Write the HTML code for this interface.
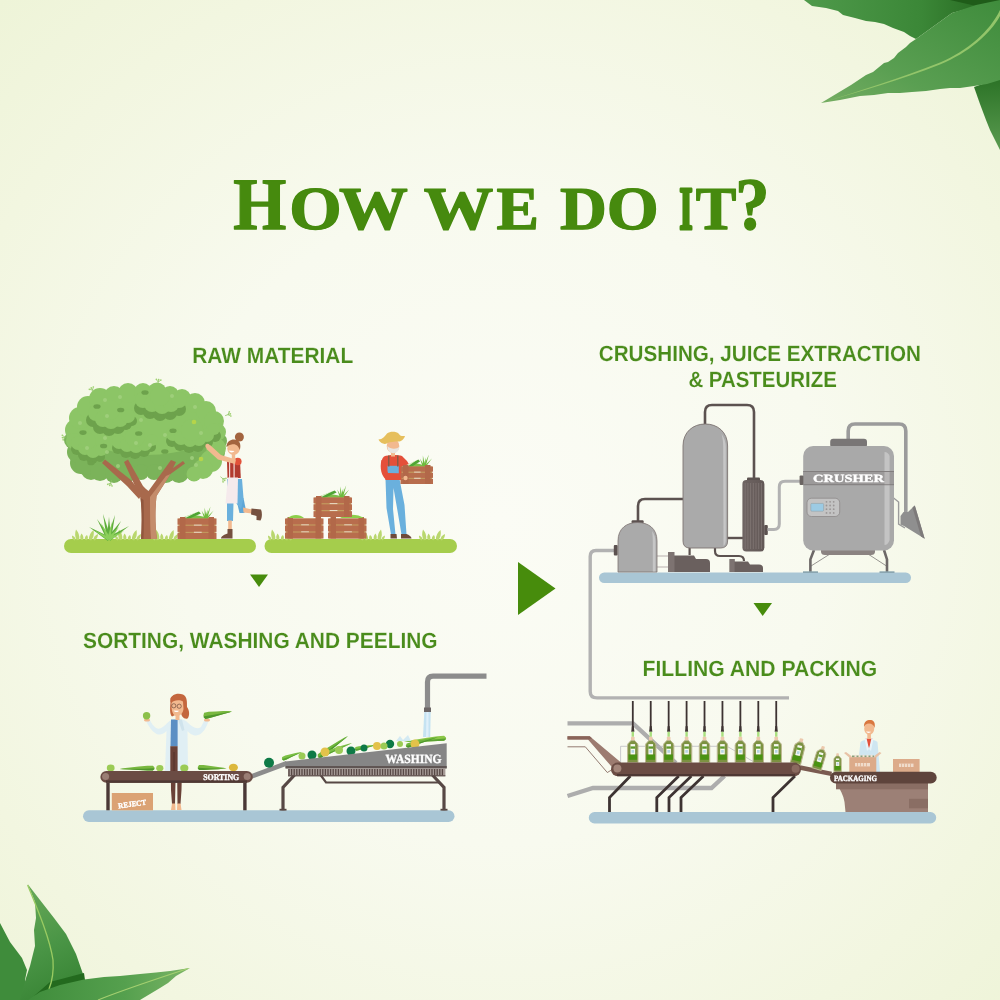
<!DOCTYPE html>
<html lang="en">
<head>
<meta charset="utf-8">
<title>How we do it?</title>
<style>
html,body{margin:0;padding:0;}
body{width:1000px;height:1000px;overflow:hidden;background:#f5f8e8;}
svg{display:block;text-rendering:geometricPrecision;will-change:transform;}
.lbl{font-family:"Liberation Sans",Arial,sans-serif;font-weight:700;fill:#4a8c1c;font-size:22px;stroke:#f8faee;stroke-width:0.1px;}
.ttl{font-family:"Liberation Serif","Times New Roman",serif;font-weight:700;fill:#468a0e;stroke:#468a0e;stroke-width:1.3px;stroke-linejoin:round;}
.stn{font-family:"Liberation Serif","Times New Roman",serif;font-weight:700;fill:#fff;stroke:#fff;stroke-width:0.35px;}
</style>
</head>
<body>
<svg width="1000" height="1000" viewBox="0 0 1000 1000">
<defs>
<radialGradient id="bg" cx="50%" cy="52%" r="72%">
<stop offset="0" stop-color="#fbfcf5"/>
<stop offset="0.45" stop-color="#f8faef"/>
<stop offset="0.8" stop-color="#f2f6e0"/>
<stop offset="1" stop-color="#eef4d8"/>
</radialGradient>
</defs>
<rect width="1000" height="1000" fill="url(#bg)"/>

<!--LEAVES-->
<defs>
<linearGradient id="lf1" x1="0" y1="0" x2="1" y2="0"><stop offset="0" stop-color="#4f9a4b"/><stop offset="0.6" stop-color="#3b8737"/><stop offset="1" stop-color="#23641d"/></linearGradient>
<linearGradient id="lf2" x1="0" y1="1" x2="1" y2="0"><stop offset="0" stop-color="#74ad62"/><stop offset="0.35" stop-color="#5a9f52"/><stop offset="1" stop-color="#3f8c3c"/></linearGradient>
<linearGradient id="lf3" x1="0" y1="0" x2="0" y2="1"><stop offset="0" stop-color="#2b7226"/><stop offset="1" stop-color="#5a9b50"/></linearGradient>
<linearGradient id="lfA" x1="0" y1="0" x2="0.3" y2="1"><stop offset="0" stop-color="#6aaa5a"/><stop offset="0.6" stop-color="#4a9546"/><stop offset="1" stop-color="#3a8636"/></linearGradient>
<linearGradient id="lfC" x1="0" y1="0" x2="1" y2="0"><stop offset="0" stop-color="#3f8c3b"/><stop offset="0.6" stop-color="#55a04e"/><stop offset="1" stop-color="#7ab466"/></linearGradient>
</defs>
<g>
<!-- top right -->
<path d="M804,0 L812,6 L826,8 L838,11 L843,15 L855,18 L866,21 L875,22 L884,24 L893,28 L904,32 L910,36 L916,39 L952,13 L1000,0 Z" fill="url(#lf1)"/>
<path d="M950,0 L1000,0 L1000,14 L985,8 Z" fill="#1f5c19"/>
<path d="M974,87 L980,104 L983,112 L986,120 L990,130 L994,138 L1000,150 L1000,78 Z" fill="url(#lf3)"/>
<path d="M821,103 L836,94 L851,85 L866,75 L873,72 L884,63 L888,62 L894,58 L898,53 L906,47 L910,43 L916,39 L934,26 L952,13 L976,5 L1000,0 L1000,80 L987,84 L974,86 L960,88 L950,88 L940,89 L926,91 L912,92 L900,93 L888,93 L874,95 L860,96 L840,100 Z" fill="url(#lf2)"/>
<path d="M823,102.500 C860,90.500 900,78.500 940,62.500 C968,50.500 990,31 1000,10 L1000,16 C990,34 969,52.500 940,64.500 C900,80 860,91.500 823,102.500 Z" fill="#93c56a"/>
<!-- bottom left -->
<path d="M0,923 L10,942 L16,950 L22,958 L27,970 L25,980 L30,1000 L0,1000 Z" fill="#3f8c3b"/>
<path d="M27.600,884 L35,902 L36,918 L34,930 L35,946 L30,966 L26,978 L20,1000 L90,1000 L84,979 L83,974 L76,954 L66,934 L54,918 L40,900 Z" fill="url(#lfA)"/>
<path d="M50,982 L84,973 L85,980 L60,986 L34,996 Z" fill="#236a1e"/>
<path d="M27.600,885 C40,915 50,940 53,960 C54,975 51,984 49,989" fill="none" stroke="#9acb62" stroke-width="1.3"/>
<path d="M28,1000 L40,992 L60,985 L84,979.600 L104,977 L120,976 L140,974 L156,972.500 L170,971 L190,968 L176,976 L168,983 L160,988 L150,994 L140,1000 Z" fill="url(#lfC)"/>
<path d="M98,1000 C120,991 150,981 188,968.500" fill="none" stroke="#a4d070" stroke-width="1.1"/>
</g>

<!--TITLE-->
<text class="ttl" y="229" opacity="0.999"><tspan x="233.23" font-size="74" textLength="53.06" lengthAdjust="spacingAndGlyphs">H</tspan><tspan x="289.24" font-size="61" textLength="52.43" lengthAdjust="spacingAndGlyphs">O</tspan><tspan x="339.02" font-size="61" textLength="68.86" lengthAdjust="spacingAndGlyphs">W</tspan> <tspan x="423.71" font-size="61" textLength="69.58" lengthAdjust="spacingAndGlyphs">W</tspan><tspan x="496.61" font-size="61" textLength="42.45" lengthAdjust="spacingAndGlyphs">E</tspan> <tspan x="560.09" font-size="61" textLength="46.82" lengthAdjust="spacingAndGlyphs">D</tspan><tspan x="606.86" font-size="61" textLength="51.97" lengthAdjust="spacingAndGlyphs">O</tspan> <tspan x="679.26" font-size="61" textLength="13.54" lengthAdjust="spacingAndGlyphs" stroke-width="3.0">I</tspan><tspan x="695.75" font-size="61" textLength="40.58" lengthAdjust="spacingAndGlyphs">T</tspan><tspan x="735.35" font-size="74" textLength="34.19" lengthAdjust="spacingAndGlyphs">?</tspan></text>

<!--LABELS-->
<g class="lbl">
<text x="192.2" y="363" textLength="161" lengthAdjust="spacingAndGlyphs">RAW MATERIAL</text>
<text x="83" y="648" textLength="354.6" lengthAdjust="spacingAndGlyphs">SORTING, WASHING AND PEELING</text>
<text x="598.8" y="360.6" textLength="322.2" lengthAdjust="spacingAndGlyphs">CRUSHING, JUICE EXTRACTION</text>
<text x="688.4" y="387" textLength="148.4" lengthAdjust="spacingAndGlyphs">&amp; PASTEURIZE</text>
<text x="642.6" y="675.7" textLength="234.6" lengthAdjust="spacingAndGlyphs">FILLING AND PACKING</text>
</g>

<!--ARROWS-->
<g fill="#478c0c">
<polygon points="250,574.5 268,574.5 259,587"/>
<polygon points="753.5,603 772,603 762.7,616"/>
<polygon points="518,562 555.5,588.4 518,615"/>
</g>

<!--SCENE1-->
<g id="scene1">
<rect x="64" y="539" width="192" height="14" rx="7" fill="#a5cd4c"/>
<rect x="264.500" y="539" width="192.500" height="14" rx="7" fill="#a5cd4c"/>
<path d="M76.8,540.2 Q73.9,535.3 76.0,529.5 Q80.1,534.2 79.2,539.8 Z" fill="#b9d76e"/><path d="M81.0,540.1 Q79.2,536.9 81.5,533.5 Q84.3,536.6 83.0,539.9 Z" fill="#b9d76e"/><path d="M85.1,539.8 Q84.1,537.0 87.0,535.0 Q88.9,538.0 86.9,540.2 Z" fill="#b9d76e"/><path d="M88.9,539.6 Q88.7,533.9 93.5,530.0 Q94.8,536.1 91.1,540.4 Z" fill="#b9d76e"/><path d="M93.3,539.5 Q94.0,535.7 98.0,534.0 Q98.0,538.3 94.7,540.5 Z" fill="#b9d76e"/><path d="M74.4,540.4 Q71.8,538.9 72.0,535.5 Q75.2,536.6 75.6,539.6 Z" fill="#b9d76e"/>
<path d="M119.8,540.2 Q116.9,535.3 119.0,529.5 Q123.1,534.2 122.2,539.8 Z" fill="#b9d76e"/><path d="M124.0,540.1 Q122.2,536.9 124.5,533.5 Q127.3,536.6 126.0,539.9 Z" fill="#b9d76e"/><path d="M128.1,539.8 Q127.1,537.0 130.0,535.0 Q131.9,538.0 129.9,540.2 Z" fill="#b9d76e"/><path d="M131.9,539.6 Q131.7,533.9 136.5,530.0 Q137.8,536.1 134.1,540.4 Z" fill="#b9d76e"/><path d="M136.3,539.5 Q137.0,535.7 141.0,534.0 Q141.0,538.3 137.7,540.5 Z" fill="#b9d76e"/><path d="M117.4,540.4 Q114.8,538.9 115.0,535.5 Q118.2,536.6 118.6,539.6 Z" fill="#b9d76e"/>
<path d="M156.8,540.2 Q153.9,535.3 156.0,529.5 Q160.1,534.2 159.2,539.8 Z" fill="#b9d76e"/><path d="M161.0,540.1 Q159.2,536.9 161.5,533.5 Q164.3,536.6 163.0,539.9 Z" fill="#b9d76e"/><path d="M165.1,539.8 Q164.1,537.0 167.0,535.0 Q168.9,538.0 166.9,540.2 Z" fill="#b9d76e"/><path d="M168.9,539.6 Q168.7,533.9 173.5,530.0 Q174.8,536.1 171.1,540.4 Z" fill="#b9d76e"/><path d="M173.3,539.5 Q174.0,535.7 178.0,534.0 Q178.0,538.3 174.7,540.5 Z" fill="#b9d76e"/><path d="M154.4,540.4 Q151.8,538.9 152.0,535.5 Q155.2,536.6 155.6,539.6 Z" fill="#b9d76e"/>
<path d="M272.8,540.2 Q269.9,535.3 272.0,529.5 Q276.1,534.2 275.2,539.8 Z" fill="#b9d76e"/><path d="M277.0,540.1 Q275.2,536.9 277.5,533.5 Q280.3,536.6 279.0,539.9 Z" fill="#b9d76e"/><path d="M281.1,539.8 Q280.1,537.0 283.0,535.0 Q284.9,538.0 282.9,540.2 Z" fill="#b9d76e"/><path d="M284.9,539.6 Q284.7,533.9 289.5,530.0 Q290.8,536.1 287.1,540.4 Z" fill="#b9d76e"/><path d="M289.3,539.5 Q290.0,535.7 294.0,534.0 Q294.0,538.3 290.7,540.5 Z" fill="#b9d76e"/><path d="M270.4,540.4 Q267.8,538.9 268.0,535.5 Q271.2,536.6 271.6,539.6 Z" fill="#b9d76e"/>
<path d="M377.8,539.8 Q376.9,534.2 381.0,529.5 Q383.1,535.3 380.2,540.2 Z" fill="#b9d76e"/><path d="M374.0,539.9 Q372.7,536.6 375.5,533.5 Q377.8,536.9 376.0,540.1 Z" fill="#b9d76e"/><path d="M370.1,540.2 Q368.1,538.0 370.0,535.0 Q372.9,537.0 371.9,539.8 Z" fill="#b9d76e"/><path d="M365.9,540.4 Q362.2,536.1 363.5,530.0 Q368.3,533.9 368.1,539.6 Z" fill="#b9d76e"/><path d="M362.3,540.5 Q359.0,538.3 359.0,534.0 Q363.0,535.7 363.7,539.5 Z" fill="#b9d76e"/><path d="M381.4,539.6 Q381.8,536.6 385.0,535.5 Q385.2,538.9 382.6,540.4 Z" fill="#b9d76e"/>
<path d="M423.8,540.2 Q420.9,535.3 423.0,529.5 Q427.1,534.2 426.2,539.8 Z" fill="#b9d76e"/><path d="M428.0,540.1 Q426.2,536.9 428.5,533.5 Q431.3,536.6 430.0,539.9 Z" fill="#b9d76e"/><path d="M432.1,539.8 Q431.1,537.0 434.0,535.0 Q435.9,538.0 433.9,540.2 Z" fill="#b9d76e"/><path d="M435.9,539.6 Q435.7,533.9 440.5,530.0 Q441.8,536.1 438.1,540.4 Z" fill="#b9d76e"/><path d="M440.3,539.5 Q441.0,535.7 445.0,534.0 Q445.0,538.3 441.7,540.5 Z" fill="#b9d76e"/><path d="M421.4,540.4 Q418.8,538.9 419.0,535.5 Q422.2,536.6 422.6,539.6 Z" fill="#b9d76e"/>
<ellipse cx="146" cy="446" rx="72" ry="30" fill="#7bb35a"/>
<circle cx="81.0" cy="463.0" r="11.0" fill="#7bb35a"/>
<circle cx="91.0" cy="470.0" r="10.0" fill="#7bb35a"/>
<circle cx="78.0" cy="452.0" r="11.0" fill="#7bb35a"/>
<circle cx="86.0" cy="464.0" r="11.0" fill="#7bb35a"/>
<circle cx="100.0" cy="471.0" r="10.0" fill="#7bb35a"/>
<circle cx="114.0" cy="474.0" r="9.0" fill="#7bb35a"/>
<circle cx="128.0" cy="473.0" r="9.0" fill="#7bb35a"/>
<circle cx="141.0" cy="472.0" r="8.0" fill="#7bb35a"/>
<circle cx="154.0" cy="472.0" r="8.0" fill="#7bb35a"/>
<circle cx="166.0" cy="474.0" r="9.0" fill="#7bb35a"/>
<circle cx="179.0" cy="473.0" r="10.0" fill="#7bb35a"/>
<circle cx="193.0" cy="470.0" r="10.0" fill="#7bb35a"/>
<circle cx="205.0" cy="463.0" r="11.0" fill="#7bb35a"/>
<circle cx="214.0" cy="452.0" r="11.0" fill="#7bb35a"/>
<circle cx="218.0" cy="441.0" r="9.0" fill="#7bb35a"/>
<circle cx="73.0" cy="440.0" r="9.0" fill="#7bb35a"/>
<path d="M141,539 C142,525 142,510 140.500,498 L124,462 L128,459.500 L143,486 L146,489 L148.500,491 L171,460 L176,462 L173,468 L183,461 L185,463.500 L170.500,474 L156.500,496 C155,510 155,525 157,539 Z" fill="#a8694c"/>
<path d="M102,463 L105,459.500 L131,480 L142,494 L139,499 L127,486 Z" fill="#a8694c"/>
<path d="M150,497 C150,512 150,526 151,539 L157,539 C155,525 155,510 156.500,496 L170.500,474 L166,476 Z" fill="#c48c6b"/>
<path d="M141,539 C142,525 142,510 140.500,498 L143.500,500 C144,512 144,526 143.500,539 Z" fill="#91573e"/>
<ellipse cx="146" cy="425" rx="70" ry="30" fill="#8cc566"/>
<circle cx="211.0" cy="461.0" r="11.0" fill="#8cc566"/>
<circle cx="203.0" cy="469.0" r="10.0" fill="#8cc566"/>
<circle cx="194.0" cy="474.0" r="7.5" fill="#8cc566"/>
<circle cx="216.0" cy="448.0" r="10.0" fill="#8cc566"/>
<circle cx="76.0" cy="430.0" r="11.0" fill="#8cc566"/>
<circle cx="80.0" cy="418.0" r="11.0" fill="#8cc566"/>
<circle cx="88.0" cy="407.0" r="11.0" fill="#8cc566"/>
<circle cx="100.0" cy="399.0" r="11.0" fill="#8cc566"/>
<circle cx="114.0" cy="396.0" r="10.0" fill="#8cc566"/>
<circle cx="128.0" cy="393.0" r="10.0" fill="#8cc566"/>
<circle cx="143.0" cy="392.0" r="9.0" fill="#8cc566"/>
<circle cx="157.0" cy="392.0" r="9.5" fill="#8cc566"/>
<circle cx="170.0" cy="395.0" r="9.0" fill="#8cc566"/>
<circle cx="182.0" cy="398.0" r="9.0" fill="#8cc566"/>
<circle cx="195.0" cy="403.0" r="10.0" fill="#8cc566"/>
<circle cx="206.0" cy="411.0" r="10.0" fill="#8cc566"/>
<circle cx="214.0" cy="421.0" r="10.0" fill="#8cc566"/>
<circle cx="217.0" cy="432.0" r="9.0" fill="#8cc566"/>
<circle cx="74.0" cy="441.0" r="8.0" fill="#8cc566"/>
<circle cx="141.0" cy="408.0" r="7.0" fill="#6da24c"/>
<circle cx="150.0" cy="412.0" r="7.0" fill="#6da24c"/>
<circle cx="160.0" cy="414.0" r="7.0" fill="#6da24c"/>
<circle cx="170.0" cy="413.0" r="7.0" fill="#6da24c"/>
<circle cx="179.0" cy="409.0" r="7.0" fill="#6da24c"/>
<circle cx="143.0" cy="400.0" r="8.0" fill="#8cc566"/>
<circle cx="152.0" cy="404.0" r="8.0" fill="#8cc566"/>
<circle cx="162.0" cy="406.0" r="8.0" fill="#8cc566"/>
<circle cx="171.0" cy="404.0" r="8.0" fill="#8cc566"/>
<circle cx="179.0" cy="400.0" r="8.0" fill="#8cc566"/>
<circle cx="160.0" cy="396.0" r="10.0" fill="#8cc566"/>
<circle cx="93.0" cy="420.0" r="7.0" fill="#6da24c"/>
<circle cx="100.0" cy="427.0" r="7.0" fill="#6da24c"/>
<circle cx="109.0" cy="429.0" r="7.0" fill="#6da24c"/>
<circle cx="118.0" cy="427.0" r="7.0" fill="#6da24c"/>
<circle cx="126.0" cy="424.0" r="6.0" fill="#6da24c"/>
<circle cx="132.0" cy="421.0" r="5.0" fill="#6da24c"/>
<circle cx="96.0" cy="413.0" r="8.0" fill="#8cc566"/>
<circle cx="103.0" cy="419.0" r="8.0" fill="#8cc566"/>
<circle cx="111.0" cy="421.0" r="8.0" fill="#8cc566"/>
<circle cx="120.0" cy="419.0" r="8.0" fill="#8cc566"/>
<circle cx="128.0" cy="416.0" r="7.0" fill="#8cc566"/>
<circle cx="110.0" cy="410.0" r="10.0" fill="#8cc566"/>
<circle cx="118.0" cy="448.0" r="6.0" fill="#6da24c"/>
<circle cx="126.0" cy="452.0" r="6.0" fill="#6da24c"/>
<circle cx="135.0" cy="453.0" r="6.0" fill="#6da24c"/>
<circle cx="144.0" cy="451.0" r="6.0" fill="#6da24c"/>
<circle cx="151.0" cy="447.0" r="5.0" fill="#6da24c"/>
<circle cx="119.0" cy="442.0" r="7.0" fill="#8cc566"/>
<circle cx="127.0" cy="445.0" r="7.0" fill="#8cc566"/>
<circle cx="136.0" cy="446.0" r="7.0" fill="#8cc566"/>
<circle cx="145.0" cy="444.0" r="7.0" fill="#8cc566"/>
<circle cx="152.0" cy="440.0" r="6.0" fill="#8cc566"/>
<circle cx="135.0" cy="437.0" r="10.0" fill="#8cc566"/>
<circle cx="172.0" cy="441.0" r="6.0" fill="#6da24c"/>
<circle cx="180.0" cy="445.0" r="6.0" fill="#6da24c"/>
<circle cx="189.0" cy="447.0" r="6.0" fill="#6da24c"/>
<circle cx="198.0" cy="446.0" r="6.0" fill="#6da24c"/>
<circle cx="207.0" cy="442.0" r="6.0" fill="#6da24c"/>
<circle cx="215.0" cy="436.0" r="6.0" fill="#6da24c"/>
<circle cx="173.0" cy="434.0" r="7.0" fill="#8cc566"/>
<circle cx="181.0" cy="438.0" r="7.0" fill="#8cc566"/>
<circle cx="190.0" cy="440.0" r="7.0" fill="#8cc566"/>
<circle cx="199.0" cy="439.0" r="7.0" fill="#8cc566"/>
<circle cx="207.0" cy="435.0" r="7.0" fill="#8cc566"/>
<circle cx="214.0" cy="429.0" r="6.0" fill="#8cc566"/>
<circle cx="192.0" cy="430.0" r="11.0" fill="#8cc566"/>
<circle cx="77.0" cy="449.0" r="6.0" fill="#6da24c"/>
<circle cx="84.0" cy="455.0" r="6.0" fill="#6da24c"/>
<circle cx="92.0" cy="458.0" r="6.0" fill="#6da24c"/>
<circle cx="100.0" cy="457.0" r="5.0" fill="#6da24c"/>
<circle cx="78.0" cy="443.0" r="7.0" fill="#8cc566"/>
<circle cx="85.0" cy="448.0" r="7.0" fill="#8cc566"/>
<circle cx="93.0" cy="451.0" r="7.0" fill="#8cc566"/>
<circle cx="101.0" cy="450.0" r="6.0" fill="#8cc566"/>
<circle cx="88.0" cy="441.0" r="8.0" fill="#8cc566"/>
<ellipse cx="97" cy="406.5" rx="3.600" ry="2.300" fill="#6da24c"/>
<ellipse cx="120.7" cy="410" rx="3.600" ry="2.300" fill="#6da24c"/>
<ellipse cx="145" cy="392.5" rx="3.600" ry="2.300" fill="#6da24c"/>
<ellipse cx="149.5" cy="415.5" rx="3.600" ry="2.300" fill="#6da24c"/>
<ellipse cx="83" cy="432.6" rx="3.600" ry="2.300" fill="#6da24c"/>
<ellipse cx="138.7" cy="433.5" rx="3.600" ry="2.300" fill="#6da24c"/>
<ellipse cx="173" cy="430.8" rx="3.600" ry="2.300" fill="#6da24c"/>
<ellipse cx="103.6" cy="446" rx="3.600" ry="2.300" fill="#6da24c"/>
<ellipse cx="164.8" cy="451.5" rx="3.600" ry="2.300" fill="#6da24c"/>
<ellipse cx="91" cy="463" rx="3.600" ry="2.300" fill="#6da24c"/>
<circle cx="105" cy="400" r="2" fill="#a3d180" opacity="0.800"/>
<circle cx="120" cy="397" r="2" fill="#a3d180" opacity="0.800"/>
<circle cx="172" cy="396" r="2" fill="#a3d180" opacity="0.800"/>
<circle cx="195" cy="407" r="2" fill="#a3d180" opacity="0.800"/>
<circle cx="107" cy="416" r="2" fill="#a3d180" opacity="0.800"/>
<circle cx="141" cy="420" r="2" fill="#a3d180" opacity="0.800"/>
<circle cx="80" cy="423" r="2" fill="#a3d180" opacity="0.800"/>
<circle cx="87" cy="448" r="2" fill="#a3d180" opacity="0.800"/>
<circle cx="105" cy="438" r="2" fill="#a3d180" opacity="0.800"/>
<circle cx="107" cy="452" r="2" fill="#a3d180" opacity="0.800"/>
<circle cx="136" cy="443" r="2" fill="#a3d180" opacity="0.800"/>
<circle cx="165" cy="435" r="2" fill="#a3d180" opacity="0.800"/>
<circle cx="201" cy="433" r="2" fill="#a3d180" opacity="0.800"/>
<circle cx="192" cy="458" r="2" fill="#a3d180" opacity="0.800"/>
<circle cx="118" cy="466" r="2" fill="#a3d180" opacity="0.800"/>
<circle cx="160" cy="468" r="2" fill="#a3d180" opacity="0.800"/>
<circle cx="196" cy="465" r="2" fill="#a3d180" opacity="0.800"/>
<circle cx="150" cy="445" r="2" fill="#a3d180" opacity="0.800"/>
<circle cx="194" cy="422" r="2.300" fill="#b5d44a"/>
<circle cx="201" cy="459" r="2.300" fill="#b5d44a"/>
<g transform="translate(66 437) rotate(-100)"><path d="M0,2 L0,-3 M0,-1 L-2,-3 M0,-1 L2,-3" stroke="#8fc565" stroke-width="0.700" fill="none"/><circle cx="0" cy="-3.500" r="0.900" fill="#9fd070"/><circle cx="-2.300" cy="-3.300" r="0.800" fill="#9fd070"/><circle cx="2.300" cy="-3.300" r="0.800" fill="#9fd070"/></g>
<g transform="translate(93 391) rotate(-30)"><path d="M0,2 L0,-3 M0,-1 L-2,-3 M0,-1 L2,-3" stroke="#8fc565" stroke-width="0.700" fill="none"/><circle cx="0" cy="-3.500" r="0.900" fill="#9fd070"/><circle cx="-2.300" cy="-3.300" r="0.800" fill="#9fd070"/><circle cx="2.300" cy="-3.300" r="0.800" fill="#9fd070"/></g>
<g transform="translate(158 383) rotate(10)"><path d="M0,2 L0,-3 M0,-1 L-2,-3 M0,-1 L2,-3" stroke="#8fc565" stroke-width="0.700" fill="none"/><circle cx="0" cy="-3.500" r="0.900" fill="#9fd070"/><circle cx="-2.300" cy="-3.300" r="0.800" fill="#9fd070"/><circle cx="2.300" cy="-3.300" r="0.800" fill="#9fd070"/></g>
<g transform="translate(227 415) rotate(70)"><path d="M0,2 L0,-3 M0,-1 L-2,-3 M0,-1 L2,-3" stroke="#8fc565" stroke-width="0.700" fill="none"/><circle cx="0" cy="-3.500" r="0.900" fill="#9fd070"/><circle cx="-2.300" cy="-3.300" r="0.800" fill="#9fd070"/><circle cx="2.300" cy="-3.300" r="0.800" fill="#9fd070"/></g>
<g transform="translate(222 478) rotate(130)"><path d="M0,2 L0,-3 M0,-1 L-2,-3 M0,-1 L2,-3" stroke="#8fc565" stroke-width="0.700" fill="none"/><circle cx="0" cy="-3.500" r="0.900" fill="#9fd070"/><circle cx="-2.300" cy="-3.300" r="0.800" fill="#9fd070"/><circle cx="2.300" cy="-3.300" r="0.800" fill="#9fd070"/></g>
<g transform="translate(111 482) rotate(200)"><path d="M0,2 L0,-3 M0,-1 L-2,-3 M0,-1 L2,-3" stroke="#8fc565" stroke-width="0.700" fill="none"/><circle cx="0" cy="-3.500" r="0.900" fill="#9fd070"/><circle cx="-2.300" cy="-3.300" r="0.800" fill="#9fd070"/><circle cx="2.300" cy="-3.300" r="0.800" fill="#9fd070"/></g>
<g transform="translate(227 446) rotate(90)"><path d="M0,2 L0,-3 M0,-1 L-2,-3 M0,-1 L2,-3" stroke="#8fc565" stroke-width="0.700" fill="none"/><circle cx="0" cy="-3.500" r="0.900" fill="#9fd070"/><circle cx="-2.300" cy="-3.300" r="0.800" fill="#9fd070"/><circle cx="2.300" cy="-3.300" r="0.800" fill="#9fd070"/></g>
<path d="M107.9,540.9 L89.0,527.0 L110.1,537.1 Z" fill="#5fae3c"/>
<path d="M107.1,540.1 L97.0,519.0 L110.9,537.9 Z" fill="#5fae3c"/>
<path d="M106.9,539.5 L103.0,514.0 L111.1,538.5 Z" fill="#5fae3c"/>
<path d="M106.8,539.0 L109.0,517.0 L111.2,539.0 Z" fill="#5fae3c"/>
<path d="M106.9,538.5 L115.0,515.0 L111.1,539.5 Z" fill="#5fae3c"/>
<path d="M107.2,537.8 L121.0,521.0 L110.8,540.2 Z" fill="#5fae3c"/>
<path d="M107.8,537.2 L129.0,526.0 L110.2,540.8 Z" fill="#5fae3c"/>
<path d="M108.1,540.5 L94.0,530.0 L109.9,537.5 Z" fill="#8ccf5a"/>
<path d="M107.4,539.8 L101.0,523.0 L110.6,538.2 Z" fill="#8ccf5a"/>
<path d="M107.2,538.7 L112.0,522.0 L110.8,539.3 Z" fill="#8ccf5a"/>
<path d="M107.6,537.8 L119.0,527.0 L110.4,540.2 Z" fill="#8ccf5a"/>
<path d="M108.2,537.4 L124.0,531.0 L109.8,540.6 Z" fill="#8ccf5a"/>
<path d="M181.5,519.5 C185.5,514.5 197.0,513.5 211.5,519.5 Z" fill="#7cc04a"/>
<path d="M183.5,517.5 L198.9,511.5 L200.9,513.5 L187.5,519.5 Z" fill="#4fa534"/>
<path d="M183.5,517.0 L197.0,512.0 L185.5,518.0 Z" fill="#dff0c8"/>
<path d="M204.6,519.5 L201.6,510.5 L207.1,519.5 Z" fill="#6fbb3e"/>
<path d="M204.6,519.5 L204.6,507.5 L207.1,519.5 Z" fill="#6fbb3e"/>
<path d="M204.6,519.5 L207.6,509.5 L207.1,519.5 Z" fill="#6fbb3e"/>
<path d="M204.6,519.5 L210.6,506.5 L207.1,519.5 Z" fill="#6fbb3e"/>
<path d="M204.6,519.5 L213.6,510.5 L207.1,519.5 Z" fill="#6fbb3e"/>
<rect x="178.5" y="518.5" width="37" height="20.5" fill="#c4a262"/>
<rect x="177.5" y="518.5" width="39" height="6.2" fill="#b86d4d"/>
<rect x="193.9" y="524.7" width="7.8" height="1.0" fill="#f4efe4"/>
<rect x="177.5" y="525.7" width="39" height="6.2" fill="#b86d4d"/>
<rect x="193.9" y="531.8" width="7.8" height="1.0" fill="#f4efe4"/>
<rect x="177.5" y="532.8" width="39" height="6.2" fill="#b86d4d"/>
<rect x="180.0" y="517.0" width="5.500" height="22.0" fill="#b26849"/>
<rect x="208.5" y="517.0" width="5.500" height="22.0" fill="#b26849"/>
<g id="woman1">
<path d="M236,498 L243.500,498 L245.500,508 L244.500,513 L239.500,513 Z" fill="#5fa6d6"/>
<path d="M243,507.500 L252,509.500 L252,513.500 L243.500,512.500 Z" fill="#f2b98f"/>
<path d="M251.500,508.500 L261,509.500 C262.500,513 262,518 260.500,520.500 L256.500,520 L256.500,516 L251,514.500 Z" fill="#75503f"/>
<path d="M227,479 L242,479 L243.500,498 L241,509 L236,503 L233.500,503 L233,521 L227,521 Z" fill="#6ab0dd"/>
<rect x="228.200" y="520.500" width="3.600" height="9.500" fill="#f2b98f"/>
<path d="M227.500,529 L232.500,529 L232.500,538.500 L221,538.500 C221,536 224,535 227.500,533.500 Z" fill="#75503f"/>
<path d="M227,461 L240,460 L240.800,478 L227.500,478 Z" fill="#b23b30"/>
<circle cx="237.800" cy="461.500" r="3.800" fill="#e2523a"/>
<rect x="229" y="462" width="1.200" height="16" fill="#f1d9d4"/><rect x="233.500" y="462" width="1.200" height="16" fill="#f1d9d4"/>
<path d="M227.800,477.500 L238,477.500 L237.500,503.500 L225.500,503.500 Z" fill="#f5eaec"/>
<path d="M236,459.500 L221,455 L210,445 L207,446 L206.500,449 L218,459.500 L235,464 Z" fill="#f2b98f"/>
<circle cx="207.500" cy="446" r="2.200" fill="#f2b98f"/>
<rect x="231.800" y="453" width="3.400" height="6" fill="#f2b98f"/>
<circle cx="233.600" cy="448.500" r="6.300" fill="#f2b98f"/>
<path d="M226.600,447 C226.500,440 233,438.500 237,440 C240.500,441.500 241,446 239.800,450 C238.500,446 236,443.500 231.500,444.500 C229,445 227.500,446 226.600,447 Z" fill="#a3643f"/>
<circle cx="239.400" cy="437" r="4.500" fill="#a3643f"/>
<path d="M228.500,450.500 C230,453 233,453 234.500,451 Z" fill="#fff"/>
</g>
<rect x="323.500" y="517" width="4.500" height="22" fill="#fbfbf6"/>
<rect x="286" y="518.5" width="36.5" height="20" fill="#c4a262"/>
<rect x="285" y="518.5" width="38.5" height="6.0" fill="#b86d4d"/>
<rect x="301.2" y="524.5" width="7.7" height="1.0" fill="#f4efe4"/>
<rect x="285" y="525.5" width="38.5" height="6.0" fill="#b86d4d"/>
<rect x="301.2" y="531.5" width="7.7" height="1.0" fill="#f4efe4"/>
<rect x="285" y="532.5" width="38.5" height="6.0" fill="#b86d4d"/>
<rect x="287.5" y="517.0" width="5.500" height="21.5" fill="#b26849"/>
<rect x="315.5" y="517.0" width="5.500" height="21.5" fill="#b26849"/>
<rect x="329" y="518.5" width="36.5" height="20" fill="#c4a262"/>
<rect x="328" y="518.5" width="38.5" height="6.0" fill="#b86d4d"/>
<rect x="344.2" y="524.5" width="7.7" height="1.0" fill="#f4efe4"/>
<rect x="328" y="525.5" width="38.5" height="6.0" fill="#b86d4d"/>
<rect x="344.2" y="531.5" width="7.7" height="1.0" fill="#f4efe4"/>
<rect x="328" y="532.5" width="38.5" height="6.0" fill="#b86d4d"/>
<rect x="330.5" y="517.0" width="5.500" height="21.5" fill="#b26849"/>
<rect x="358.5" y="517.0" width="5.500" height="21.5" fill="#b26849"/>
<path d="M288,518 C292,514 300,514 304,518 Z" fill="#8ccf4a"/><path d="M340,518 C345,513.500 358,513.500 364,518 Z" fill="#8ccf4a"/>
<path d="M317.5,498.5 C321.5,493.5 332.75,492.5 347.0,498.5 Z" fill="#7cc04a"/>
<path d="M319.5,496.5 L334.7,490.5 L336.6,492.5 L323.5,498.5 Z" fill="#4fa534"/>
<path d="M319.5,496.0 L332.8,491.0 L321.5,497.0 Z" fill="#dff0c8"/>
<path d="M340.2,498.5 L337.2,489.5 L342.7,498.5 Z" fill="#6fbb3e"/>
<path d="M340.2,498.5 L340.2,486.5 L342.7,498.5 Z" fill="#6fbb3e"/>
<path d="M340.2,498.5 L343.2,488.5 L342.7,498.5 Z" fill="#6fbb3e"/>
<path d="M340.2,498.5 L346.2,485.5 L342.7,498.5 Z" fill="#6fbb3e"/>
<path d="M340.2,498.5 L349.2,489.5 L342.7,498.5 Z" fill="#6fbb3e"/>
<rect x="314.5" y="497.5" width="36.5" height="19.5" fill="#c4a262"/>
<rect x="313.5" y="497.5" width="38.5" height="5.8" fill="#b86d4d"/>
<rect x="329.7" y="503.3" width="7.7" height="1.0" fill="#f4efe4"/>
<rect x="313.5" y="504.3" width="38.5" height="5.8" fill="#b86d4d"/>
<rect x="329.7" y="510.2" width="7.7" height="1.0" fill="#f4efe4"/>
<rect x="313.5" y="511.2" width="38.5" height="5.8" fill="#b86d4d"/>
<rect x="316.0" y="496.0" width="5.500" height="21.0" fill="#b26849"/>
<rect x="344.0" y="496.0" width="5.500" height="21.0" fill="#b26849"/>
<g id="man1">
<path d="M385.500,479 L399.500,479 L404.500,505 L406.500,534.500 L401.500,534.500 L397,508 L393.500,488 L393,509 L395.500,534.500 L391,534.500 L386.500,508 Z" fill="#6ab0dd"/>
<path d="M390.500,534 L396.500,534 L397,538.500 L390.500,538.500 Z" fill="#6e4a3a"/><path d="M401,534 L406.500,534 C409,535 411.500,536.500 411.500,538.500 L401,538.500 Z" fill="#6e4a3a"/>
<path d="M384,456.500 C388,454.500 398,454.500 402,456 L407,461 L410,466 L406,470 L402,466 L402,480 L385.500,480 L384.500,474 C380,470 380,460 384,456.500 Z" fill="#e4503a"/>
<rect x="387.500" y="465.800" width="11.300" height="8" fill="#6ab0dd"/>
<rect x="388" y="455.500" width="1.500" height="11" fill="#8a5a44"/><rect x="397" y="455.500" width="1.500" height="11" fill="#8a5a44"/>
<path d="M381.500,460 C379.500,468 381.500,476 386,479.500 L403,479.500 L403.500,473.500 L388,473 C386,470 385.500,465 386,460 Z" fill="#e4503a"/>
<rect x="391" y="450" width="4" height="6.500" fill="#f2b98f"/>
<ellipse cx="393" cy="446" rx="6.300" ry="7" fill="#f2b98f"/>
<path d="M387.500,446 C387,455.500 399.300,455.500 399.300,446.500 C397.500,449.500 390,449.500 387.500,446 Z" fill="#e9e6e2"/>
<path d="M378.500,439.500 C382.500,439.500 385,436 387,433.500 C390,431.200 396,431.200 398.800,433.800 C400.500,436.500 402.500,436.200 405,436 C403.500,440 401,441.500 398.500,441.500 C394,441.500 390,442 387.500,443 C386,444 384.500,444.300 383,443.600 C381,443 379.500,441.500 378.500,439.500 Z" fill="#e6bf5c"/>
<path d="M404.5,467.5 C408.5,462.5 416.75,461.5 428.0,467.5 Z" fill="#7cc04a"/>
<path d="M406.5,465.5 L418.4,459.5 L420.0,461.5 L410.5,467.5 Z" fill="#4fa534"/>
<path d="M406.5,465.0 L416.8,460.0 L408.5,466.0 Z" fill="#dff0c8"/>
<path d="M422.9,467.5 L419.9,458.5 L425.4,467.5 Z" fill="#6fbb3e"/>
<path d="M422.9,467.5 L422.9,455.5 L425.4,467.5 Z" fill="#6fbb3e"/>
<path d="M422.9,467.5 L425.9,457.5 L425.4,467.5 Z" fill="#6fbb3e"/>
<path d="M422.9,467.5 L428.9,454.5 L425.4,467.5 Z" fill="#6fbb3e"/>
<path d="M422.9,467.5 L431.9,458.5 L425.4,467.5 Z" fill="#6fbb3e"/>
<rect x="401.5" y="466.5" width="30.5" height="17.5" fill="#c4a262"/>
<rect x="400.5" y="466.5" width="32.5" height="5.2" fill="#b86d4d"/>
<rect x="414.1" y="471.7" width="6.5" height="1.0" fill="#f4efe4"/>
<rect x="400.5" y="472.7" width="32.5" height="5.2" fill="#b86d4d"/>
<rect x="414.1" y="477.8" width="6.5" height="1.0" fill="#f4efe4"/>
<rect x="400.5" y="478.8" width="32.5" height="5.2" fill="#b86d4d"/>
<rect x="403.0" y="465.0" width="5.500" height="19.0" fill="#b26849"/>
<rect x="425.0" y="465.0" width="5.500" height="19.0" fill="#b26849"/>
<circle cx="405.500" cy="478" r="2.200" fill="#f2b98f"/>
</g>
</g>

<!--SCENE2-->
<g id="scene2">
<rect x="83" y="810.300" width="371.500" height="11.700" rx="5.850" fill="#a9c6d5"/>
<path d="M486.500,676.100 L433,676.100 Q427.500,676.100 427.500,682 L427.500,709" fill="none" stroke="#8c8c8c" stroke-width="5.200"/>
<rect x="424" y="707.500" width="7" height="4.500" fill="#6c6666"/>
<path d="M424.300,712 L430.700,712 L430.200,737 L423,737 Z" fill="#bfe0f2" opacity="0.900"/>
<path d="M426.500,712 L428.500,712 L428.500,737 L426,737 Z" fill="#dff0fa"/>
<g id="woman2">
<path d="M170.500,745 L182.500,745 L181.500,790 L180.500,804 L177.500,804 L177,760 L176,760 L175,804 L172,804 L171,790 Z" fill="#6a4238"/>
<path d="M172,803.500 L175.200,803.500 L175.500,810 L171,810 Z" fill="#f2b98f"/><path d="M177.300,803.500 L180.600,803.500 L181.500,810 L177,810 Z" fill="#f2b98f"/>
<path d="M169.500,721 C172,718.500 183,718.500 186,721 C192,727 197,730 201,727 L205,719 L208.500,721 C206,729 202,735 196,735.500 C192,735.500 189,733 187.500,731 L188,771 L165,771 L166.500,731 C164,734 160,735.500 156.500,734 C151.500,731 148.500,726 146,721 L149.500,719 C152,725 156,729.500 160,728.500 C164,727 167,723 169.500,721 Z" fill="#e0eff4"/>
<path d="M171,719.500 L177.600,719.500 L177.600,746.200 L170.500,746.200 Z" fill="#5b8fc4"/>
<path d="M170.300,746.200 L177.600,746.200 L177.600,771 L170.300,771 Z" fill="#6a4238"/>
<path d="M173.600,752 L174.400,752 L174.400,771 L173.600,771 Z" fill="#4e2f28"/>
<path d="M178,719.500 L182,719.500 L184.500,730 L182,731 Z" fill="#cfe3ec"/>
<ellipse cx="147" cy="720" rx="3" ry="1.600" fill="#f2b98f"/><ellipse cx="207" cy="720" rx="3" ry="1.600" fill="#f2b98f"/>
<path d="M170.500,702 C169.500,694 178,692.500 183,694.500 C187.500,696.500 187,703 187,707 C189.500,710 190,716 187.500,718.500 C184,719.500 181,716 181,712 L172,716.500 C169.500,714 170,708 170.500,702 Z" fill="#c4673e"/>
<rect x="175.500" y="713" width="4" height="7" fill="#f2b98f"/>
<path d="M171.500,703 C173,700 180,699.500 183,701.500 L183.500,709 C183,714 179,716.500 176.500,716 C173,715.500 171,711 171.500,703 Z" fill="#f2b98f"/>
<path d="M170.500,702.500 C174,699 181,698 185,701 L185,697 C181,693.500 173,694 170.500,698 Z" fill="#c4673e"/>
<circle cx="173.800" cy="705.800" r="2.100" fill="none" stroke="#5a3a30" stroke-width="0.600"/><circle cx="179.200" cy="706.200" r="2.100" fill="none" stroke="#5a3a30" stroke-width="0.600"/>
<path d="M173.500,710.500 C175,712.500 178,712.500 179,710.800 Z" fill="#fff"/>
</g>
<circle cx="146.600" cy="715.800" r="3.700" fill="#8cc04a"/>
<path d="M203.4,715.4 L204.1,712.7 L208.7,711.8 L215.9,711.4 L223.2,711.1 L229.0,711.1 L232.0,711.5 L229.2,712.4 L223.6,714.1 L216.7,716.0 L209.7,718.1 L205.4,719.1 L203.7,717.2 Z" fill="#79b83f"/><path d="M204.1,716.3 L212.1,715.1 L223.5,713.1 L232.0,711.5 L229.2,712.4 L223.6,714.1 L216.7,716.0 L209.7,718.1 L205.4,719.1 L203.7,717.2 Z" fill="#4f962c"/>
<path d="M154.5,767.6 L153.0,765.8 L147.4,765.8 L138.7,766.6 L130.0,767.4 L123.0,768.3 L119.5,769.0 L123.0,769.3 L130.0,769.6 L138.8,769.9 L147.6,770.4 L152.8,770.4 L154.5,768.9 Z" fill="#79b83f"/><path d="M153.8,768.3 L144.0,768.7 L130.0,768.8 L119.5,769.0 L123.0,769.3 L130.0,769.6 L138.8,769.9 L147.6,770.4 L152.8,770.4 L154.5,768.9 Z" fill="#4f962c"/>
<path d="M197.8,767.0 L199.0,765.1 L203.6,765.1 L210.8,766.0 L218.0,766.9 L223.7,767.8 L226.6,768.5 L223.7,768.8 L217.9,769.2 L210.7,769.5 L203.5,770.0 L199.2,770.1 L197.8,768.5 Z" fill="#79b83f"/><path d="M198.4,767.8 L206.4,768.2 L218.0,768.4 L226.6,768.5 L223.7,768.8 L217.9,769.2 L210.7,769.5 L203.5,770.0 L199.2,770.1 L197.8,768.5 Z" fill="#4f962c"/>
<ellipse cx="110.7" cy="768" rx="3.9" ry="3.4" fill="#9bcb55"/>
<ellipse cx="159.8" cy="768.2" rx="3.6" ry="3.1" fill="#9bcb55"/>
<ellipse cx="184.3" cy="768" rx="4.1" ry="3.6" fill="#9bcb55"/>
<ellipse cx="233.4" cy="767.6" rx="4.5" ry="3.9" fill="#dcb83c"/>
<path d="M250,774.500 L286,761 L287.500,765.500 L251,779 Z" fill="#8c8c8c"/>
<rect x="100.400" y="771" width="152.400" height="11.800" rx="5.900" fill="#6b4c44"/>
<rect x="106" y="780.400" width="141" height="2.400" fill="#4e3834"/>
<circle cx="105.600" cy="776.600" r="3.500" fill="#9a7e74"/><circle cx="247.200" cy="776.600" r="3.500" fill="#9a7e74"/>
<rect x="106.300" y="782.800" width="3.400" height="27.500" fill="#4a3836"/><rect x="243.200" y="782.800" width="3.400" height="27.500" fill="#4a3836"/>
<text class="stn" x="203.200" y="780" font-size="8.800" textLength="36" lengthAdjust="spacingAndGlyphs">SORTING</text>
<rect x="111.800" y="793" width="41.200" height="17.300" fill="#dba274"/>
<text class="stn" x="118" y="806.500" font-size="7.600" textLength="28" lengthAdjust="spacingAndGlyphs" transform="rotate(-8 132 803)" fill="#f7eadc">REJECT</text>
<path d="M294.600,775 L283,787.400 L283,810.300" fill="none" stroke="#574845" stroke-width="3.200" stroke-linejoin="miter"/>
<path d="M432.400,775 L444,787.400 L444,810.300" fill="none" stroke="#574845" stroke-width="3.200"/>
<path d="M320.600,775 L326,782.500 L439,782.500" fill="none" stroke="#574845" stroke-width="2.200"/>
<rect x="279.500" y="808.800" width="7" height="1.800" fill="#574845"/><rect x="440.500" y="808.800" width="7" height="1.800" fill="#574845"/>
<circle cx="269" cy="762.700" r="5" fill="#0e7a46"/>
<path d="M317.7,756.6 L317.8,754.2 L322.5,750.7 L330.4,745.9 L338.2,741.2 L344.6,737.6 L348.0,736.0 L345.2,738.4 L339.6,743.1 L332.4,748.9 L325.3,754.7 L321.0,758.0 L318.6,757.8 Z" fill="#6fb63c"/><path d="M318.8,756.8 L327.2,751.0 L339.1,742.4 L348.0,736.0 L345.2,738.4 L339.6,743.1 L332.4,748.9 L325.3,754.7 L321.0,758.0 L318.6,757.8 Z" fill="#4b972c"/>
<path d="M321.9,754.6 L322.5,752.7 L327.2,750.7 L334.9,748.1 L342.6,745.6 L348.8,743.7 L352.0,743.0 L349.1,744.5 L343.3,747.3 L336.0,750.8 L328.7,754.3 L324.3,756.3 L322.3,755.7 Z" fill="#7cc045"/><path d="M322.7,755.0 L331.1,751.7 L343.0,746.7 L352.0,743.0 L349.1,744.5 L343.3,747.3 L336.0,750.8 L328.7,754.3 L324.3,756.3 L322.3,755.7 Z" fill="#57a232"/>
<path d="M281.9,758.6 L282.2,756.9 L285.3,755.6 L290.5,754.3 L295.6,753.1 L299.8,752.2 L302.0,752.0 L300.1,753.0 L296.3,754.8 L291.4,757.1 L286.6,759.4 L283.7,760.6 L282.3,759.7 Z" fill="#7cc045"/><path d="M282.5,759.1 L288.1,757.2 L296.0,754.2 L302.0,752.0 L300.1,753.0 L296.3,754.8 L291.4,757.1 L286.6,759.4 L283.7,760.6 L282.3,759.7 Z" fill="#57a232"/>
<path d="M354.9,748.6 L355.5,747.1 L358.8,746.3 L364.2,745.7 L369.5,745.2 L373.8,744.9 L376.0,745.0 L374.0,745.7 L369.8,746.9 L364.7,748.4 L359.5,749.9 L356.4,750.7 L355.1,749.7 Z" fill="#7cc045"/><path d="M355.5,749.2 L361.4,748.1 L369.7,746.3 L376.0,745.0 L374.0,745.7 L369.8,746.9 L364.7,748.4 L359.5,749.9 L356.4,750.7 L355.1,749.7 Z" fill="#57a232"/>
<path d="M446.0,737.5 L444.1,735.8 L437.4,736.3 L426.9,737.8 L416.5,739.5 L408.1,741.0 L404.0,742.0 L408.2,742.0 L416.7,741.8 L427.3,741.4 L437.8,741.1 L444.1,740.7 L446.1,739.0 Z" fill="#8cc748"/><path d="M445.2,738.4 L433.4,739.6 L416.6,741.0 L404.0,742.0 L408.2,742.0 L416.7,741.8 L427.3,741.4 L437.8,741.1 L444.1,740.7 L446.1,739.0 Z" fill="#5aa232"/>
<path d="M405.9,745.6 L406.7,743.6 L411.8,742.0 L419.9,740.3 L428.1,738.6 L434.6,737.4 L438.0,737.0 L434.9,738.2 L428.6,740.5 L420.8,743.3 L412.9,746.1 L408.2,747.7 L406.2,746.8 Z" fill="#6fb63c"/><path d="M406.7,746.1 L415.7,743.6 L428.4,739.8 L438.0,737.0 L434.9,738.2 L428.6,740.5 L420.8,743.3 L412.9,746.1 L408.2,747.7 L406.2,746.8 Z" fill="#4b972c"/>
<circle cx="312" cy="755" r="4.5" fill="#0e7a46"/>
<circle cx="325" cy="752" r="4.5" fill="#e3c24a"/>
<circle cx="339" cy="750" r="4" fill="#9bcb55"/>
<circle cx="351" cy="751" r="4.5" fill="#0e7a46"/>
<circle cx="364" cy="748" r="3.5" fill="#0e7a46"/>
<circle cx="377" cy="746" r="4" fill="#e3c24a"/>
<circle cx="390" cy="744" r="4.2" fill="#0e7a46"/>
<circle cx="384" cy="746" r="3.5" fill="#9bcb55"/>
<circle cx="415" cy="744" r="4.5" fill="#e3c24a"/>
<circle cx="302" cy="756" r="3.5" fill="#9bcb55"/>
<circle cx="400" cy="744" r="3" fill="#9bcb55"/>
<path d="M396,741 L400,736 L403,740 L408,735 L411,741 Z" fill="#cde6f3" opacity="0.850"/>
<path d="M285.500,761.400 L446.700,743.200 L446.700,768 L285.500,768 Z" fill="#868686"/>
<rect x="285.500" y="766" width="161.200" height="2.600" fill="#5f5553"/>
<rect x="288" y="768.600" width="157.400" height="7" fill="#a79c98"/>
<path d="M289.0,769 V775.200 M291.6,769 V775.200 M294.2,769 V775.200 M296.8,769 V775.200 M299.4,769 V775.200 M302.0,769 V775.200 M304.6,769 V775.200 M307.2,769 V775.200 M309.8,769 V775.200 M312.4,769 V775.200 M315.0,769 V775.200 M317.6,769 V775.200 M320.2,769 V775.200 M322.8,769 V775.200 M325.4,769 V775.200 M328.0,769 V775.200 M330.6,769 V775.200 M333.2,769 V775.200 M335.8,769 V775.200 M338.4,769 V775.200 M341.0,769 V775.200 M343.6,769 V775.200 M346.2,769 V775.200 M348.8,769 V775.200 M351.4,769 V775.200 M354.0,769 V775.200 M356.6,769 V775.200 M359.2,769 V775.200 M361.8,769 V775.200 M364.4,769 V775.200 M367.0,769 V775.200 M369.6,769 V775.200 M372.2,769 V775.200 M374.8,769 V775.200 M377.4,769 V775.200 M380.0,769 V775.200 M382.6,769 V775.200 M385.2,769 V775.200 M387.8,769 V775.200 M390.4,769 V775.200 M393.0,769 V775.200 M395.6,769 V775.200 M398.2,769 V775.200 M400.8,769 V775.200 M403.4,769 V775.200 M406.0,769 V775.200 M408.6,769 V775.200 M411.2,769 V775.200 M413.8,769 V775.200 M416.4,769 V775.200 M419.0,769 V775.200 M421.6,769 V775.200 M424.2,769 V775.200 M426.8,769 V775.200 M429.4,769 V775.200 M432.0,769 V775.200 M434.6,769 V775.200 M437.2,769 V775.200 M439.8,769 V775.200 M442.4,769 V775.200" stroke="#574845" stroke-width="1.300" fill="none"/>
<rect x="288" y="775.200" width="157.400" height="1.200" fill="#574845"/>
<text class="stn" x="385.600" y="763.400" font-size="12.500" textLength="56" lengthAdjust="spacingAndGlyphs">WASHING</text>
</g>

<!--SCENE3-->
<g id="scene3">
<defs><linearGradient id="cyl" x1="0" y1="0" x2="1" y2="0"><stop offset="0" stop-color="#6e6462"/><stop offset="1" stop-color="#625856"/></linearGradient></defs>
<rect x="599" y="572.500" width="312" height="10.500" rx="5.250" fill="#a9c6d5"/>
<path d="M615,550.500 L596,550.500 Q590.200,550.500 590.200,556.500 L590.200,691.500 Q590.200,697.900 597,697.900 L789,697.900" fill="none" stroke="#b2b2b2" stroke-width="3.400"/>
<path d="M638,522 L638,506 Q638,499 645,499 L684,499" fill="none" stroke="#5c5250" stroke-width="2.600"/>
<path d="M705,426 L705,412 Q705,405 712,405 L747,405 Q754,405 754,412 L754,479" fill="none" stroke="#5c5250" stroke-width="2.600"/>
<path d="M727,538 L743,538" stroke="#5c5250" stroke-width="2.400" fill="none"/>
<path d="M689.600,547 L689.600,555" stroke="#5c5250" stroke-width="2.200" fill="none"/>
<path d="M715,547 L715,551 Q715,556 720,556 L739,556 Q744,556 744,561" stroke="#5c5250" stroke-width="2.200" fill="none"/>
<path d="M656,556 L669,556 M656,567 L669,567" stroke="#b8b0ae" stroke-width="1.200"/>
<rect x="631.600" y="520.300" width="12" height="3.200" rx="1" fill="#5c5250"/>
<path d="M618,572 L618,541 C618,528 627,522.500 637.500,522.500 C648,522.500 657,528 657,541 L657,572 Z" fill="#aaaaaa" stroke="#7d7472" stroke-width="0.800"/>
<path d="M652,531 C654.500,534 655.500,538 655.500,542 L655.500,571.500 L652.800,571.500 L652.800,542 C652.800,538 652.600,534 652,531 Z" fill="#c6c6c6"/>
<rect x="613.800" y="545" width="3.800" height="10.500" rx="1" fill="#5c5250"/>
<path d="M683,541 L683,446 C683,432 693,424 705.300,424 C717.600,424 727.600,432 727.600,446 L727.600,541 Q727.600,548 720.600,548 L690,548 Q683,548 683,541 Z" fill="#aaaaaa" stroke="#7d7472" stroke-width="0.900"/>
<path d="M721.500,434 C724.500,438 725.800,442 725.800,447 L725.800,540 C725.800,543 725,545 723.500,546 L723.200,447 C723.200,442 722.700,438 721.500,434 Z" fill="#c6c6c6"/>
<rect x="747" y="477.600" width="13" height="3.400" rx="1" fill="#5c5250"/>
<rect x="742.400" y="480" width="22" height="71.600" rx="4" fill="url(#cyl)"/>
<path d="M745.2,483 V549 M747.9,483 V549 M750.6,483 V549 M753.3,483 V549 M756.0,483 V549 M758.7,483 V549 M761.4,483 V549" stroke="#7f7573" stroke-width="0.900" fill="none"/>
<rect x="764.200" y="525" width="3.600" height="10" rx="1" fill="#5c5250"/>
<path d="M767.500,529.400 L774,529.400 Q779.300,529.400 779.300,524 L779.300,487 Q779.300,481.200 785,481.200 L800,481.200" fill="none" stroke="#b2b2b2" stroke-width="3"/>
<path d="M668,552 L674,552 L674,555.500 L694,555.500 L696,559 L706,559 Q710,559 710,563 L710,572 L668,572 Z" fill="#6a605e"/>
<rect x="668" y="552" width="6.500" height="20" fill="#7d7371"/>
<path d="M729.600,559 L734.500,559 L734.500,561.500 L748,561.500 L750,564.500 L759,564.500 Q763,564.500 763,568 L763,572 L729.600,572 Z" fill="#6a605e"/>
<rect x="729.600" y="559" width="5" height="13" fill="#7d7371"/>
<path d="M848.200,440 L848.200,431 Q848.200,424 855,424 L899,424 Q905.800,424 905.800,431 L905.800,513" fill="none" stroke="#9b9b9b" stroke-width="3.600"/>
<path d="M893,497.500 L898.600,502 L898.600,524 L905,528" fill="none" stroke="#9b9b9b" stroke-width="1.400"/>
<path d="M903.500,512 L908,512 L914.800,505.400 L924.700,538.700 L904,526 L900.500,524.500 L900.500,516 Z" fill="#8f8f8f"/>
<path d="M914.800,505.400 L924.700,538.700 L921,536.500 L912.500,507.500 Z" fill="#7d7a7a"/>
<path d="M814,550 L810.400,559.400 L810.400,572" fill="none" stroke="#6d6867" stroke-width="2.600"/>
<path d="M884,550 L887,559.400 L887,572" fill="none" stroke="#6d6867" stroke-width="2.600"/>
<path d="M811,566 L830,554 M886.500,566 L868,554" stroke="#6d6867" stroke-width="0.700"/>
<rect x="803" y="571.300" width="15" height="1.700" fill="#8aa5b0"/><rect x="879.500" y="571.300" width="15" height="1.700" fill="#8aa5b0"/>
<path d="M821,549.500 L875,549.500 L875,551.500 Q875,555 871,555 L825,555 Q821,555 821,551.500 Z" fill="#8b8381"/>
<rect x="830.200" y="438.800" width="36.800" height="9" rx="3" fill="#797676"/>
<rect x="803.200" y="446" width="90.800" height="104.400" rx="10" fill="#a9a9a9"/>
<path d="M884.500,452 Q888,452 889.600,456 L889.600,540 Q888,545 884.500,545 Z" fill="#c4c4c4"/>
<rect x="803.200" y="471.200" width="90.800" height="13.500" fill="#9c9a9a"/>
<rect x="803.200" y="471" width="90.800" height="1" fill="#827e7e"/><rect x="803.200" y="484.200" width="90.800" height="1" fill="#827e7e"/>
<rect x="884.500" y="472" width="5.100" height="12.200" fill="#b7b5b5"/>
<text class="stn" x="813" y="482.200" font-size="11" textLength="71" lengthAdjust="spacingAndGlyphs">CRUSHER</text>
<rect x="799.600" y="475.500" width="3.800" height="9.500" rx="1" fill="#6a6462"/>
<rect x="807" y="498.200" width="32.700" height="18.300" rx="4.500" fill="#c3c3c3" stroke="#8d8989" stroke-width="0.800"/>
<rect x="810.800" y="503.400" width="12.800" height="7.800" rx="1" fill="#9ccbe4" stroke="#8d9aa0" stroke-width="0.500"/>
<circle cx="826.5" cy="501.8" r="0.900" fill="#9a9696"/><circle cx="830.1" cy="501.8" r="0.900" fill="#9a9696"/><circle cx="833.7" cy="501.8" r="0.900" fill="#9a9696"/><circle cx="826.5" cy="505.5" r="0.900" fill="#9a9696"/><circle cx="830.1" cy="505.5" r="0.900" fill="#9a9696"/><circle cx="833.7" cy="505.5" r="0.900" fill="#9a9696"/><circle cx="826.5" cy="509.2" r="0.900" fill="#9a9696"/><circle cx="830.1" cy="509.2" r="0.900" fill="#9a9696"/><circle cx="833.7" cy="509.2" r="0.900" fill="#9a9696"/><circle cx="826.5" cy="512.9" r="0.900" fill="#9a9696"/><circle cx="830.1" cy="512.9" r="0.900" fill="#9a9696"/><circle cx="833.7" cy="512.9" r="0.900" fill="#9a9696"/>
</g>

<!--SCENE4-->
<g id="scene4">
<rect x="588.800" y="812" width="347.400" height="11.400" rx="5.700" fill="#a9c6d5"/>
<path d="M567.500,723.400 L633,723.400 L676,763" fill="none" stroke="#adadad" stroke-width="4.300"/>
<path d="M567.500,796 L593,788 L711.500,788 L724.500,776" fill="none" stroke="#adadad" stroke-width="4.300"/>
<path d="M620.600,763 L620.600,746.300 L727,746.300 L754,762" fill="none" stroke="#b4b4bc" stroke-width="0.700"/>
<path d="M567.500,736.200 L589.700,736.200 L621,762.600 L613,768 L611,766 L588,739.600 L567.500,739.600 Z" fill="#9c7b70"/>
<path d="M567.500,736.200 L589.700,736.200 L592,738.200 L589,739.600 L567.500,739.600 Z" fill="#8a6459"/>
<path d="M567.500,746.800 L585.300,746.800 L607.300,772.500 L611.500,770" fill="none" stroke="#7a5a50" stroke-width="0.800"/>
<path d="M630.4,776 L609.5,797.500 L609.5,812" fill="none" stroke="#3d3332" stroke-width="2.800"/>
<path d="M678.8,776 L656.8,797.500 L656.8,812" fill="none" stroke="#3d3332" stroke-width="2.800"/>
<path d="M691.4,776 L669,797.500 L669,812" fill="none" stroke="#3d3332" stroke-width="2.800"/>
<path d="M703.5,776 L681,797.500 L681,812" fill="none" stroke="#3d3332" stroke-width="2.800"/>
<path d="M795,776 L773,797.500 L773,812" fill="none" stroke="#3d3332" stroke-width="2.800"/>
<path d="M799,765 L832,771.800 L831,776 L798,769.500 Z" fill="#7a5a50"/>
<rect x="631.90" y="701" width="1.800" height="27.500" fill="#3d3332"/>
<path d="M631.90,726 L633.70,726 L634.40,731.800 L631.20,731.800 Z" fill="#3d3332"/>
<rect x="631.60" y="731.800" width="2.400" height="5" fill="#a9e07e"/>
<g><rect x="631.00" y="736.80" width="3.60" height="4.60" rx="0.800" fill="#ecc9ad"/><path d="M627.60,762.60 L627.60,745.30 Q627.60,743.60 629.10,742.60 L630.90,740.60 L634.70,740.60 L636.50,742.60 Q638.00,743.60 638.00,745.30 L638.00,762.60 Z" fill="#7c9242" stroke="#bdb992" stroke-width="1.00"/><rect x="628.50" y="754.40" width="8.60" height="5.40" fill="#4a9312"/><rect x="630.50" y="744.10" width="4.60" height="10.30" fill="#f7f9f0"/><rect x="630.50" y="746.40" width="4.60" height="2.30" fill="#5c9a2a"/><rect x="631.50" y="750.00" width="2.60" height="2.80" fill="#b5d6e2"/></g>
<rect x="649.83" y="701" width="1.800" height="27.500" fill="#3d3332"/>
<path d="M649.83,726 L651.63,726 L652.33,731.800 L649.13,731.800 Z" fill="#3d3332"/>
<rect x="649.53" y="731.800" width="2.400" height="5" fill="#a9e07e"/>
<g><rect x="648.93" y="736.80" width="3.60" height="4.60" rx="0.800" fill="#ecc9ad"/><path d="M645.53,762.60 L645.53,745.30 Q645.53,743.60 647.03,742.60 L648.83,740.60 L652.63,740.60 L654.43,742.60 Q655.93,743.60 655.93,745.30 L655.93,762.60 Z" fill="#7c9242" stroke="#bdb992" stroke-width="1.00"/><rect x="646.43" y="754.40" width="8.60" height="5.40" fill="#4a9312"/><rect x="648.43" y="744.10" width="4.60" height="10.30" fill="#f7f9f0"/><rect x="648.43" y="746.40" width="4.60" height="2.30" fill="#5c9a2a"/><rect x="649.43" y="750.00" width="2.60" height="2.80" fill="#b5d6e2"/></g>
<rect x="667.76" y="701" width="1.800" height="27.500" fill="#3d3332"/>
<path d="M667.76,726 L669.56,726 L670.26,731.800 L667.06,731.800 Z" fill="#3d3332"/>
<rect x="667.46" y="731.800" width="2.400" height="5" fill="#a9e07e"/>
<g><rect x="666.86" y="736.80" width="3.60" height="4.60" rx="0.800" fill="#ecc9ad"/><path d="M663.46,762.60 L663.46,745.30 Q663.46,743.60 664.96,742.60 L666.76,740.60 L670.56,740.60 L672.36,742.60 Q673.86,743.60 673.86,745.30 L673.86,762.60 Z" fill="#7c9242" stroke="#bdb992" stroke-width="1.00"/><rect x="664.36" y="754.40" width="8.60" height="5.40" fill="#4a9312"/><rect x="666.36" y="744.10" width="4.60" height="10.30" fill="#f7f9f0"/><rect x="666.36" y="746.40" width="4.60" height="2.30" fill="#5c9a2a"/><rect x="667.36" y="750.00" width="2.60" height="2.80" fill="#b5d6e2"/></g>
<rect x="685.69" y="701" width="1.800" height="27.500" fill="#3d3332"/>
<path d="M685.69,726 L687.49,726 L688.19,731.800 L684.99,731.800 Z" fill="#3d3332"/>
<rect x="685.39" y="731.800" width="2.400" height="5" fill="#a9e07e"/>
<g><rect x="684.79" y="736.80" width="3.60" height="4.60" rx="0.800" fill="#ecc9ad"/><path d="M681.39,762.60 L681.39,745.30 Q681.39,743.60 682.89,742.60 L684.69,740.60 L688.49,740.60 L690.29,742.60 Q691.79,743.60 691.79,745.30 L691.79,762.60 Z" fill="#7c9242" stroke="#bdb992" stroke-width="1.00"/><rect x="682.29" y="754.40" width="8.60" height="5.40" fill="#4a9312"/><rect x="684.29" y="744.10" width="4.60" height="10.30" fill="#f7f9f0"/><rect x="684.29" y="746.40" width="4.60" height="2.30" fill="#5c9a2a"/><rect x="685.29" y="750.00" width="2.60" height="2.80" fill="#b5d6e2"/></g>
<rect x="703.62" y="701" width="1.800" height="27.500" fill="#3d3332"/>
<path d="M703.62,726 L705.42,726 L706.12,731.800 L702.92,731.800 Z" fill="#3d3332"/>
<rect x="703.32" y="731.800" width="2.400" height="5" fill="#a9e07e"/>
<g><rect x="702.72" y="736.80" width="3.60" height="4.60" rx="0.800" fill="#ecc9ad"/><path d="M699.32,762.60 L699.32,745.30 Q699.32,743.60 700.82,742.60 L702.62,740.60 L706.42,740.60 L708.22,742.60 Q709.72,743.60 709.72,745.30 L709.72,762.60 Z" fill="#7c9242" stroke="#bdb992" stroke-width="1.00"/><rect x="700.22" y="754.40" width="8.60" height="5.40" fill="#4a9312"/><rect x="702.22" y="744.10" width="4.60" height="10.30" fill="#f7f9f0"/><rect x="702.22" y="746.40" width="4.60" height="2.30" fill="#5c9a2a"/><rect x="703.22" y="750.00" width="2.60" height="2.80" fill="#b5d6e2"/></g>
<rect x="721.55" y="701" width="1.800" height="27.500" fill="#3d3332"/>
<path d="M721.55,726 L723.35,726 L724.05,731.800 L720.85,731.800 Z" fill="#3d3332"/>
<rect x="721.25" y="731.800" width="2.400" height="5" fill="#a9e07e"/>
<g><rect x="720.65" y="736.80" width="3.60" height="4.60" rx="0.800" fill="#ecc9ad"/><path d="M717.25,762.60 L717.25,745.30 Q717.25,743.60 718.75,742.60 L720.55,740.60 L724.35,740.60 L726.15,742.60 Q727.65,743.60 727.65,745.30 L727.65,762.60 Z" fill="#7c9242" stroke="#bdb992" stroke-width="1.00"/><rect x="718.15" y="754.40" width="8.60" height="5.40" fill="#4a9312"/><rect x="720.15" y="744.10" width="4.60" height="10.30" fill="#f7f9f0"/><rect x="720.15" y="746.40" width="4.60" height="2.30" fill="#5c9a2a"/><rect x="721.15" y="750.00" width="2.60" height="2.80" fill="#b5d6e2"/></g>
<rect x="739.48" y="701" width="1.800" height="27.500" fill="#3d3332"/>
<path d="M739.48,726 L741.28,726 L741.98,731.800 L738.78,731.800 Z" fill="#3d3332"/>
<rect x="739.18" y="731.800" width="2.400" height="5" fill="#a9e07e"/>
<g><rect x="738.58" y="736.80" width="3.60" height="4.60" rx="0.800" fill="#ecc9ad"/><path d="M735.18,762.60 L735.18,745.30 Q735.18,743.60 736.68,742.60 L738.48,740.60 L742.28,740.60 L744.08,742.60 Q745.58,743.60 745.58,745.30 L745.58,762.60 Z" fill="#7c9242" stroke="#bdb992" stroke-width="1.00"/><rect x="736.08" y="754.40" width="8.60" height="5.40" fill="#4a9312"/><rect x="738.08" y="744.10" width="4.60" height="10.30" fill="#f7f9f0"/><rect x="738.08" y="746.40" width="4.60" height="2.30" fill="#5c9a2a"/><rect x="739.08" y="750.00" width="2.60" height="2.80" fill="#b5d6e2"/></g>
<rect x="757.41" y="701" width="1.800" height="27.500" fill="#3d3332"/>
<path d="M757.41,726 L759.21,726 L759.91,731.800 L756.71,731.800 Z" fill="#3d3332"/>
<rect x="757.11" y="731.800" width="2.400" height="5" fill="#a9e07e"/>
<g><rect x="756.51" y="736.80" width="3.60" height="4.60" rx="0.800" fill="#ecc9ad"/><path d="M753.11,762.60 L753.11,745.30 Q753.11,743.60 754.61,742.60 L756.41,740.60 L760.21,740.60 L762.01,742.60 Q763.51,743.60 763.51,745.30 L763.51,762.60 Z" fill="#7c9242" stroke="#bdb992" stroke-width="1.00"/><rect x="754.01" y="754.40" width="8.60" height="5.40" fill="#4a9312"/><rect x="756.01" y="744.10" width="4.60" height="10.30" fill="#f7f9f0"/><rect x="756.01" y="746.40" width="4.60" height="2.30" fill="#5c9a2a"/><rect x="757.01" y="750.00" width="2.60" height="2.80" fill="#b5d6e2"/></g>
<rect x="775.34" y="701" width="1.800" height="27.500" fill="#3d3332"/>
<path d="M775.34,726 L777.14,726 L777.84,731.800 L774.64,731.800 Z" fill="#3d3332"/>
<rect x="775.04" y="731.800" width="2.400" height="5" fill="#a9e07e"/>
<g><rect x="774.44" y="736.80" width="3.60" height="4.60" rx="0.800" fill="#ecc9ad"/><path d="M771.04,762.60 L771.04,745.30 Q771.04,743.60 772.54,742.60 L774.34,740.60 L778.14,740.60 L779.94,742.60 Q781.44,743.60 781.44,745.30 L781.44,762.60 Z" fill="#7c9242" stroke="#bdb992" stroke-width="1.00"/><rect x="771.94" y="754.40" width="8.60" height="5.40" fill="#4a9312"/><rect x="773.94" y="744.10" width="4.60" height="10.30" fill="#f7f9f0"/><rect x="773.94" y="746.40" width="4.60" height="2.30" fill="#5c9a2a"/><rect x="774.94" y="750.00" width="2.60" height="2.80" fill="#b5d6e2"/></g>
<g transform="rotate(14 795.5 763.5)"><rect x="793.70" y="737.70" width="3.60" height="4.60" rx="0.800" fill="#ecc9ad"/><path d="M790.30,763.50 L790.30,746.20 Q790.30,744.50 791.80,743.50 L793.60,741.50 L797.40,741.50 L799.20,743.50 Q800.70,744.50 800.70,746.20 L800.70,763.50 Z" fill="#7c9242" stroke="#bdb992" stroke-width="1.00"/><rect x="791.20" y="755.30" width="8.60" height="5.40" fill="#4a9312"/><rect x="793.20" y="745.00" width="4.60" height="10.30" fill="#f7f9f0"/><rect x="793.20" y="747.30" width="4.60" height="2.30" fill="#5c9a2a"/><rect x="794.20" y="750.90" width="2.60" height="2.80" fill="#b5d6e2"/></g>
<g transform="rotate(17 816.5 769)"><rect x="814.84" y="745.26" width="3.31" height="4.23" rx="0.800" fill="#ecc9ad"/><path d="M811.72,769.00 L811.72,753.08 Q811.72,751.52 813.10,750.60 L814.75,748.76 L818.25,748.76 L819.90,750.60 Q821.28,751.52 821.28,753.08 L821.28,769.00 Z" fill="#7c9242" stroke="#bdb992" stroke-width="0.92"/><rect x="812.54" y="761.46" width="7.91" height="4.97" fill="#4a9312"/><rect x="814.38" y="751.98" width="4.23" height="9.48" fill="#f7f9f0"/><rect x="814.38" y="754.10" width="4.23" height="2.12" fill="#5c9a2a"/><rect x="815.30" y="757.41" width="2.39" height="2.58" fill="#b5d6e2"/></g>
<g><rect x="836.30" y="753.22" width="2.59" height="3.31" rx="0.800" fill="#ecc9ad"/><path d="M833.86,771.80 L833.86,759.34 Q833.86,758.12 834.94,757.40 L836.23,755.96 L838.97,755.96 L840.26,757.40 Q841.34,758.12 841.34,759.34 L841.34,771.80 Z" fill="#7c9242" stroke="#bdb992" stroke-width="0.72"/><rect x="834.50" y="765.90" width="6.19" height="3.89" fill="#4a9312"/><rect x="835.94" y="758.48" width="3.31" height="7.42" fill="#f7f9f0"/><rect x="835.94" y="760.14" width="3.31" height="1.66" fill="#5c9a2a"/><rect x="836.66" y="762.73" width="1.87" height="2.02" fill="#b5d6e2"/></g>
<rect x="611" y="762.600" width="190" height="13.600" rx="6.800" fill="#6b4c44"/>
<rect x="617" y="774" width="178" height="2.200" fill="#4e3834"/>
<circle cx="617.400" cy="768.600" r="4" fill="#a3857a"/><circle cx="795.600" cy="768.800" r="4" fill="#8a6a5f"/>
<g id="man2">
<path d="M860.500,742 C863,738.500 875,738.500 877.500,742 L880,772 L857,772 Z" fill="#cfe6f1"/>
<path d="M865,738.500 L873,738.500 L869,749 Z" fill="#e4503a"/>
<path d="M864.500,738.500 L866.500,738 L869,749 L867,751 Z" fill="#e8f3f8"/><path d="M873.500,738.500 L871.500,738 L869,749 L871,751 Z" fill="#e8f3f8"/>
<rect x="867.300" y="733" width="3.600" height="6" fill="#f2b98f"/>
<ellipse cx="869.200" cy="728.800" rx="5" ry="6" fill="#f2b98f"/>
<path d="M864,727 C863.500,721 868,719.500 871,720 C874.500,720.500 875.500,724 874.500,728 C873.500,725 872,723.500 869,723.500 C866.500,723.500 865,725 864,727 Z" fill="#d9773f"/>
<path d="M866,731.500 C867,733.300 870,733.300 871,731.800 Z" fill="#fff"/>
</g>
<path d="M849.300,757.500 L844,753 L846,752 L852,756.500 Z" fill="#e8c2a6"/><path d="M876.300,757.500 L881.500,753 L879.500,752 L873.500,756.500 Z" fill="#e8c2a6"/>
<path d="M852,757.500 L874,757.500 L874,755.500 L852,755.500 Z" fill="#8aa078"/>
<rect x="854.5" y="754.800" width="2" height="2.800" fill="#f1e3d6"/>
<rect x="858.5" y="754.800" width="2" height="2.800" fill="#f1e3d6"/>
<rect x="862.5" y="754.800" width="2" height="2.800" fill="#f1e3d6"/>
<rect x="866.5" y="754.800" width="2" height="2.800" fill="#f1e3d6"/>
<rect x="870.5" y="754.800" width="2" height="2.800" fill="#f1e3d6"/>
<rect x="849.300" y="757.200" width="27" height="14.800" fill="#dcab8a"/>
<rect x="855" y="763" width="15" height="3.400" fill="#f0dccb"/>
<path d="M857.500,763 V766.400 M860.500,763 V766.400 M863.500,763 V766.400 M866.500,763 V766.400" stroke="#dcab8a" stroke-width="0.700"/>
<rect x="893" y="759" width="26.600" height="13" fill="#dcab8a"/>
<rect x="899" y="763.600" width="14.500" height="3.400" fill="#f0dccb"/>
<path d="M901.500,763.600 V767 M904.500,763.600 V767 M907.500,763.600 V767 M910.500,763.600 V767" stroke="#dcab8a" stroke-width="0.700"/>
<path d="M836,783 L928,783 L928,812 L845.500,812 L844.500,802 C843.500,795 840,789 836,783 Z" fill="#9c8076"/>
<rect x="836" y="783" width="92" height="6.300" fill="#8a6e64"/>
<rect x="909" y="798.800" width="19" height="9.500" fill="#8a6e64"/>
<rect x="830" y="771.800" width="106.700" height="11.800" rx="5.900" fill="#5e443c"/>
<text class="stn" x="834" y="781.400" font-size="8.200" textLength="43" lengthAdjust="spacingAndGlyphs">PACKAGING</text>
</g>

</svg>
</body>
</html>
